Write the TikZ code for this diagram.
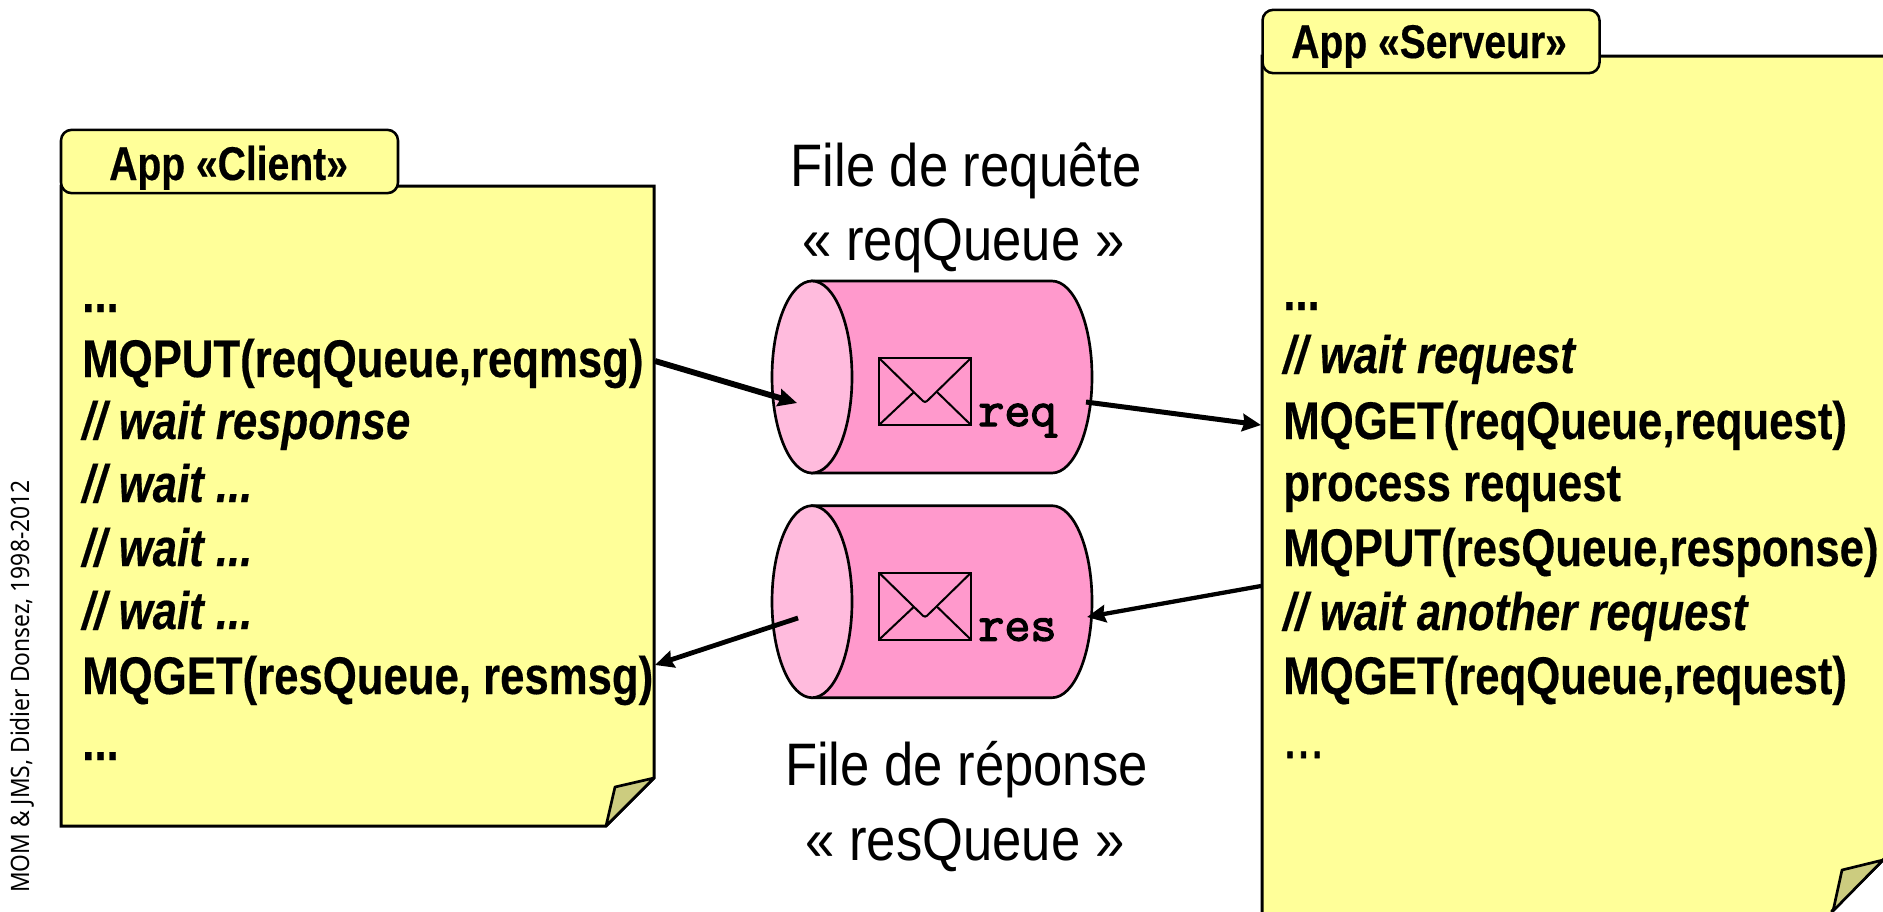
\documentclass[tikz,border=0pt]{standalone}
\usepackage{fontspec}
\setmainfont{Liberation Sans}
\newfontfamily\narrowf[FakeStretch=0.825,BoldFeatures={FakeBold=0.35},BoldItalicFeatures={FakeBold=0.35}]{Liberation Sans}
\newfontfamily\labelf[FakeStretch=0.877]{Liberation Sans}
\newfontfamily\dotsf[FakeStretch=0.83,FakeBold=1]{Liberation Sans}
\newfontfamily\sidef[FakeStretch=0.9]{Noto Sans}
\newfontfamily\msgf[FakeBold=2.6]{Latin Modern Mono}
\usetikzlibrary{arrows.meta}
\definecolor{noteY}{HTML}{FFFF99}
\definecolor{foldY}{HTML}{CCCC7F}
\definecolor{cylBody}{HTML}{FF99CC}
\definecolor{cylEnd}{HTML}{FFBBDD}
\tikzset{
  x=.75pt,y=-.75pt,
  note/.style={draw=black,fill=noteY,line width=2.25pt,line join=miter},
  notetab/.style={draw=black,fill=noteY,line width=1.9pt,rounded corners=8pt,minimum width=252.75pt,minimum height=47.5pt,inner sep=0pt},
  foldshape/.style={draw=black,fill=foldY,line width=2pt,line join=round},
  tabtext/.style={anchor=base west,inner sep=0pt,font=\narrowf\bfseries\fontsize{35.5pt}{35.5pt}\selectfont},
  code/.style={anchor=base west,inner sep=0pt,font=\narrowf\bfseries\fontsize{39.75pt}{39.75pt}\selectfont},
  codeit/.style={code,font=\narrowf\bfseries\itshape\fontsize{39.75pt}{39.75pt}\selectfont},
  qlabel/.style={anchor=base,inner sep=0pt,font=\labelf\fontsize{45pt}{45pt}\selectfont},
  msgtext/.style={anchor=base west,inner sep=0pt,font=\msgf\fontsize{38pt}{38pt}\selectfont},
  cyl/.style={draw=black,line width=2pt},
  env/.style={draw=black,line width=1.5pt,line join=miter},
  conn/.style={draw=black,-{Stealth[length=14pt,width=13pt,inset=1.5pt]}},
}
\begin{document}
\begin{tikzpicture}
\useasboundingbox (0,0) rectangle (1883,911);
\clip (0,0) rectangle (1883,911);

% client note
\path[note] (61,186) -- (654,186) -- (654,778) -- (606,826) -- (61,826) -- cycle;
\path[foldshape] (654,778) -- (615,787) -- (606,826) -- cycle;
\node[notetab] (clienttab) at (229.5,161.5) {};
\node[tabtext] (clienttitle) at (109,180) {App «Client»};
\node[code] (c1) at (82,312) {...};
\node[code] (c2) at (82,377) {MQPUT(reqQueue,reqmsg)};
\node[codeit] (c3) at (82,439) {// wait response};
\node[codeit] (c4) at (82,502) {// wait ...};
\node[codeit] (c5) at (82,566) {// wait ...};
\node[codeit] (c6) at (82,629) {// wait ...};
\node[code] (c7) at (82,694) {MQGET(resQueue, resmsg)};
\node[code] (c8) at (82,760) {...};

% server note
\path[note] (1262,56) -- (1900,56) -- (1900,843) -- (1832,911) -- (1832,960) -- (1262,960) -- cycle;
\path[foldshape] (1883,860) -- (1842,870) -- (1833,911) -- cycle;
\node[notetab] (servertab) at (1431,41.5) {};
\node[tabtext] (servertitle) at (1291,58) {App «Serveur»};
\node[code] (s1) at (1283,310) {...};
\node[codeit] (s2) at (1283,373) {// wait request};
\node[code] (s3) at (1283,439) {MQGET(reqQueue,request)};
\node[code] (s4) at (1283,501) {process request};
\node[code] (s5) at (1283,566) {MQPUT(resQueue,response)};
\node[codeit] (s6) at (1283,630) {// wait another request};
\node[code] (s7) at (1283,694) {MQGET(reqQueue,request)};
\node[code,font=\dotsf\fontsize{44pt}{44pt}\selectfont] (s8) at (1283,758) {...};

% queue labels
\node[qlabel] (q1a) at (966,186) {File de requête};
\node[qlabel] (q1b) at (963.5,260) {« reqQueue »};
\node[qlabel] (q2a) at (966.5,785) {File de réponse};
\node[qlabel] (q2b) at (965,860) {« resQueue »};

% cylinders
\foreach \cy/\ey/\nm in {377/377/req,601.7/591.7/res}{
  \path[cyl,fill=cylBody] (812,\cy-96) -- (1052,\cy-96) arc[start angle=90,end angle=-90,x radius=40,y radius=-96]
     -- (812,\cy+96) -- cycle;
  \path[cyl,fill=cylEnd] (812,\cy) ellipse[x radius=40,y radius=96];
  \path[env] (879,\ey-19) rectangle (971,\ey+48);
  \path[env,rounded corners=2pt] (879,\ey-19) -- (925,\ey+26) -- (971,\ey-19);
  \path[env] (879,\ey+48) -- (914,\ey+15);
  \path[env] (971,\ey+48) -- (937,\ey+15);
  \node[msgtext] (msg\nm) at (978,\ey+49) {\nm};
}

% side note
\node[rotate=90,anchor=base west,inner sep=0pt,font=\sidef\fontsize{19pt}{19pt}\selectfont] (side) at (29,893) {MOM \& JMS, Didier Donsez, 1998-2012};

% connectors
\coordinate (a1s) at (655,361); \coordinate (a1e) at (797,403);
\coordinate (a2s) at (1086,402); \coordinate (a2e) at (1261,425);
\coordinate (a3s) at (1261,586); \coordinate (a3e) at (1087,617);
\coordinate (a4s) at (798,618); \coordinate (a4e) at (655,665);
\path[conn,line width=4.4pt] (a1s) -- (a1e);
\path[conn,line width=3.75pt] (a2s) -- (a2e);
\path[conn,line width=3.2pt] (a3s) -- (a3e);
\path[conn,line width=3.6pt] (a4s) -- (a4e);
\end{tikzpicture}
\end{document}
